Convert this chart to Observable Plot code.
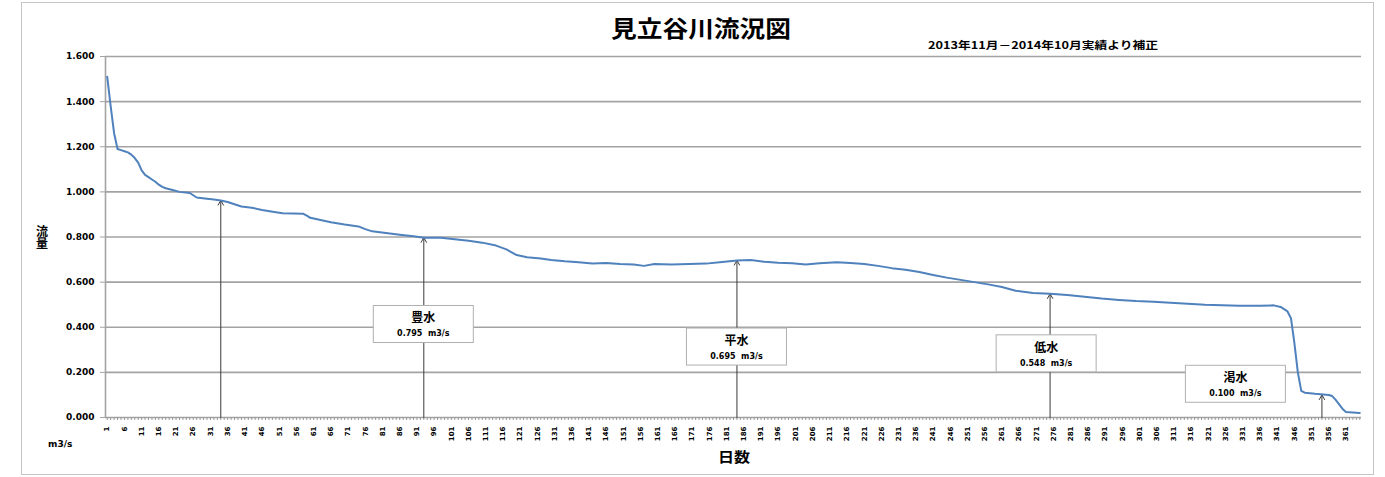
<!DOCTYPE html>
<html><head><meta charset="utf-8">
<script src="https://cdn.jsdelivr.net/npm/d3@7"></script>
<script src="https://cdn.jsdelivr.net/npm/@observablehq/plot@0.6"></script>
<style>
body{margin:0;background:#fff;}
#wrap{position:relative;width:1385px;height:477px;overflow:hidden;}
#frame{position:absolute;left:21px;top:2px;width:1353px;height:473px;border:1px solid #c4c4c4;box-sizing:border-box;pointer-events:none;}
svg{position:absolute;left:0;top:0;}
</style></head>
<body><div id="wrap"><div id="frame"></div></div>
<script>
const title = "見立谷川流況図";
const subtitle = "2013年11月－2014年10月実績より補正";
const yLabel = "流量";
const xLabel = "日数";
const unitLabel = "m3/s";

const days = [
  1,2,3,4,5,6,7,8,9,10,
  11,12,13,14,15,16,17,18,20,22,
  25,26,27,30,32,34,36,38,40,43,
  46,50,52,58,59,60,63,66,70,74,
  76,78,82,86,90,93,98,102,106,110,
  114,117,120,123,127,130,134,138,142,146,
  150,154,157,160,165,170,175,179,184,188,
  192,196,200,204,208,213,217,221,225,229,
  233,237,241,245,249,253,257,261,265,270,
  275,280,285,290,295,300,305,310,315,320,
  325,330,336,340,342,343,344,345,346,347,
  348,349,352,356,357,358,359,360,361,365];
const flows = [
  1.51,1.38,1.26,1.19,1.185,1.18,1.175,1.165,1.15,1.13,
  1.095,1.075,1.065,1.055,1.045,1.032,1.022,1.016,1.008,1.0,
  0.995,0.985,0.975,0.97,0.966,0.962,0.955,0.945,0.935,0.93,
  0.92,0.91,0.905,0.903,0.895,0.885,0.875,0.865,0.855,0.847,
  0.835,0.825,0.818,0.81,0.803,0.797,0.797,0.79,0.783,0.775,
  0.762,0.745,0.72,0.71,0.705,0.698,0.692,0.688,0.683,0.685,
  0.68,0.678,0.672,0.68,0.678,0.68,0.682,0.688,0.696,0.698,
  0.69,0.686,0.684,0.678,0.684,0.688,0.685,0.68,0.672,0.662,
  0.655,0.645,0.632,0.62,0.61,0.6,0.59,0.578,0.562,0.552,
  0.548,0.543,0.535,0.527,0.521,0.516,0.513,0.509,0.504,0.5,
  0.498,0.495,0.495,0.497,0.49,0.48,0.47,0.44,0.33,0.2,
  0.118,0.11,0.105,0.1,0.095,0.078,0.058,0.038,0.024,0.02];

const yTicks = [0,0.2,0.4,0.6,0.8,1.0,1.2,1.4,1.6];
const dayCategories = d3.range(1, 366);
const xTickLabels = dayCategories.filter(d => d % 5 === 1);

const arrowDays = [34, 93, 184, 275, 354];
const arrowFlows = [0.962, 0.797, 0.696, 0.548, 0.1];

const boxNames = ["豊水","平水","低水","渇水"];
const boxValues = ["0.795","0.695","0.548","0.100"];
const boxDays = [93, 184, 274, 329];
const boxFlows = [0.41, 0.31, 0.28, 0.145];

const series = days.map((d,i)=>({day:d, flow:flows[i]}));
const arrows = arrowDays.map((d,i)=>({day:d, flow:arrowFlows[i]}));
const boxes = boxDays.map((d,i)=>({day:d, flow:boxFlows[i], name:boxNames[i], value:boxValues[i]}));

const num = '"DejaVu Sans", sans-serif';
const cjk = '"Noto Sans CJK JP", sans-serif';
const grid = "#a3a3a3";

function boxMark(index, scales) {
  const g = d3.create("svg:g");
  boxes.forEach(b => {
    const cx = scales.x(b.day), cy = scales.y(b.flow);
    g.append("rect").attr("x", cx-50).attr("y", cy-19).attr("width",100).attr("height",37)
      .attr("fill","#fff").attr("stroke","#b0b0b0").attr("stroke-width",1);
    g.append("text").attr("x",cx).attr("y",cy-2).attr("text-anchor","middle")
      .attr("font-family",cjk).attr("font-weight","bold").attr("font-size",12).text(b.name);
    g.append("text").attr("x",cx).attr("y",cy+12).attr("text-anchor","middle")
      .attr("font-family",num).attr("font-weight","bold").attr("font-size",8).text(b.value + "\u00a0\u00a0" + unitLabel);
  });
  return g.node();
}

const chart = Plot.plot({
  width: 1385, height: 477,
  marginLeft: 105, marginRight: 24, marginTop: 56, marginBottom: 60,
  style: {background: "transparent", fontFamily: num},
  x: {domain: [0.5, 365.5]},
  y: {domain: [0, 1.6]},
  marks: [
    Plot.ruleY(yTicks, {stroke: grid, strokeWidth: 1.6}),
    Plot.ruleX([0.5], {stroke: grid, strokeWidth: 1.6}),
    Plot.axisY(yTicks, {tickFormat: d => d.toFixed(3), tickSize: 5, tickPadding: 6, fontSize: 9, fontWeight: "bold", stroke: grid, fill: "#000", label: null}),
    Plot.axisX(dayCategories, {tickSize: 3, tickFormat: () => "", stroke: "#999", label: null}),
    Plot.axisX(xTickLabels, {tickSize: 0, tickPadding: 9, tickRotate: -90, fontSize: 7, fontWeight: "bold", fill: "#000", label: null}),
    Plot.arrow(arrows, {x1: "day", x2: "day", y1: () => 0, y2: "flow", stroke: "#3a3a3a", strokeWidth: 1, headLength: 8}),
    boxMark,
    Plot.line(series, {x: "day", y: "flow", stroke: "#4f81bd", strokeWidth: 2})
  ]
});

const svg = d3.select(chart);
svg.append("text").attr("x", 701).attr("y", 37).attr("text-anchor","middle")
  .attr("font-family", cjk).attr("font-weight","bold").attr("font-size",23)
  .attr("textLength",180).attr("lengthAdjust","spacingAndGlyphs").text(title);
svg.append("text").attr("x", 928).attr("y", 49).attr("text-anchor","start")
  .attr("font-family", cjk).attr("font-weight","bold").attr("font-size",10.5)
  .attr("textLength",230).attr("lengthAdjust","spacingAndGlyphs").text(subtitle);
svg.append("text").attr("x", 42).attr("y", 237).attr("text-anchor","middle")
  .style("writing-mode","vertical-rl").style("letter-spacing","0px")
  .attr("font-family", cjk).attr("font-weight","bold").attr("font-size",12).text(yLabel);
svg.append("text").attr("x", 48).attr("y", 447).attr("text-anchor","start")
  .attr("font-family", num).attr("font-weight","bold").attr("font-size",9).text(unitLabel);
svg.append("text").attr("x", 734).attr("y", 462).attr("text-anchor","middle")
  .attr("font-family", cjk).attr("font-weight","bold").attr("font-size",14)
  .attr("textLength",32).attr("lengthAdjust","spacingAndGlyphs").text(xLabel);

document.getElementById("wrap").appendChild(chart);
</script>
</body></html>
